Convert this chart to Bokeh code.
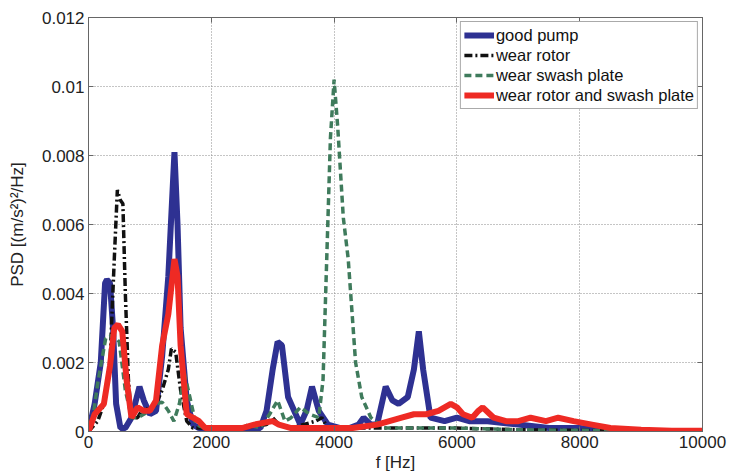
from bokeh.plotting import figure
from bokeh.models import (FixedTicker, LinearAxis, Range1d, Legend, LegendItem,
                          CustomJSTickFormatter)
from bokeh.embed import file_html
from bokeh.resources import INLINE

# ---------------- data ----------------
good_f = [0, 100, 200, 270, 300, 350, 400, 450, 520, 600, 700, 830, 900, 1000, 1100,
          1200, 1300, 1400, 1450, 1500, 1600, 1700, 1800, 2000, 2400, 2800, 2900,
          3000, 3080, 3150, 3250, 3450, 3550, 3640, 3750, 3900, 4100, 4250, 4400,
          4480, 4600, 4700, 4840, 4950, 5050, 5200, 5300, 5380, 5450, 5570, 5800,
          6000, 6200, 6500, 7000, 7500, 8000, 8500, 10000]
good_v = [0, 0.0008, 0.002, 0.0043, 0.0044, 0.0043, 0.003, 0.0008, 0.0001, 0.0001,
          0.0004, 0.0013, 0.0009, 0.0005, 0.0006, 0.0022, 0.0045, 0.0081, 0.006,
          0.003, 0.0009, 0.0002, 0.0001, 0.0001, 0.0001, 0.0001, 0.0006, 0.0018,
          0.0026, 0.0025, 0.001, 0.0002, 0.0006, 0.0013, 0.0006, 0.0002, 0.0001,
          0.0001, 0.0002, 0.0004, 0.0002, 0.0002, 0.0013, 0.0009, 0.0008, 0.001,
          0.0018, 0.0029, 0.0018, 0.0004, 0.0003, 0.0004, 0.0003, 0.0003, 0.0002,
          0.0001, 0.0001, 0.0, 0.0]

rotor_f = [0, 150, 250, 350, 420, 470, 520, 560, 600, 650, 700, 800, 900, 1000, 1100,
           1200, 1300, 1350, 1420, 1500, 1600, 1700, 1900, 2500, 2900, 3000, 3100,
           3300, 3700, 3800, 3900, 4500, 5000, 6000, 7000, 10000]
rotor_v = [0, 0.0003, 0.0008, 0.002, 0.005, 0.0070, 0.0067, 0.0066, 0.004, 0.0015,
           0.0004, 0.0004, 0.0007, 0.0006, 0.0008, 0.0012, 0.0018, 0.0024, 0.0023,
           0.0012, 0.0003, 0.0001, 0.0001, 0.0001, 0.0002, 0.0004, 0.0002, 0.0001,
           0.0003, 0.0004, 0.0001, 0.0001, 0.0001, 0.0001, 0.00005, 0]

swash_f = [0, 80, 150, 280, 400, 500, 600, 700, 800, 900, 1000, 1100, 1200, 1300,
           1390, 1480, 1560, 1650, 1750, 1900, 2200, 2500, 2600, 2800, 2950, 3080,
           3200, 3300, 3450, 3600, 3750, 3820, 3880, 3940, 4000, 4060, 4150, 4230,
           4350, 4450, 4600, 4800, 5000, 6000, 7000, 10000]
swash_v = [0, 0.0005, 0.0014, 0.0027, 0.0028, 0.0026, 0.0012, 0.0004, 0.0004,
           0.0005, 0.0006, 0.0008, 0.00085, 0.0006, 0.0003, 0.0008, 0.0017, 0.001,
           0.0002, 0.0001, 0.0001, 0.0001, 0.0002, 0.0001, 0.0005, 0.0009, 0.0003,
           0.0004, 0.0007, 0.0005, 0.0004, 0.0015, 0.005, 0.0085, 0.0102, 0.0088,
           0.0062, 0.005, 0.002, 0.001, 0.0004, 0.0001, 0.0001, 0.0001, 0.00005, 0]

both_f = [0, 100, 250, 350, 420, 480, 550, 620, 700, 800, 900, 1000, 1100, 1200, 1300,
          1400, 1450, 1500, 1600, 1700, 1800, 1900, 2100, 2500, 2700, 3000, 3100,
          3300, 3700, 4300, 4700, 4900, 5100, 5300, 5500, 5700, 5900, 6000, 6100,
          6250, 6350, 6420, 6600, 6800, 7000, 7200, 7450, 7650, 7900, 8200, 8500,
          9000, 9500, 10000]
both_v = [0, 0.0005, 0.0008, 0.0019, 0.003, 0.0031, 0.0029, 0.0015, 0.0004, 0.0007,
          0.0006, 0.0006, 0.0009, 0.0025, 0.0034, 0.005, 0.0045, 0.0025, 0.0005,
          0.0004, 0.0003, 0.0001, 0.0001, 0.0001, 0.0002, 0.0003, 0.0002, 0.0001,
          0.0001, 0.0001, 0.0002, 0.0003, 0.0004, 0.0005, 0.0005, 0.0006, 0.0008,
          0.0007, 0.0005, 0.0004, 0.0006, 0.0007, 0.0004, 0.0003, 0.0003, 0.0004,
          0.0003, 0.0004, 0.0003, 0.0002, 0.0001, 0.00005, 0.00002, 0.00002]

x_ticks = [0, 2000, 4000, 6000, 8000, 10000]
y_ticks = [0, 0.002, 0.004, 0.006, 0.008, 0.01, 0.012]
series_names = ["good pump", "wear rotor", "wear swash plate",
                "wear rotor and swash plate"]

FONT = "Liberation Sans"

p = figure(width=729, height=475, output_backend="svg", toolbar_location=None,
           x_range=Range1d(0, 10000), y_range=Range1d(0, 0.012),
           min_border_left=88, min_border_right=27, min_border_top=17,
           min_border_bottom=44)
p.background_fill_color = "white"
p.border_fill_color = "white"
p.outline_line_color = "#666666"
p.outline_line_width = 1

# Lines
r_good = p.line(good_f, good_v, line_color="#2E3192", line_width=6)
r_rotor = p.line(rotor_f, rotor_v, line_color="#111111", line_width=3.5,
                 line_dash="8 3 2 3")
r_swash = p.line(swash_f, swash_v, line_color="#3F7B5C", line_width=3.5,
                 line_dash="7 4")
r_both = p.line(both_f, both_v, line_color="#EE2A24", line_width=6)

# Axes
for ax in (p.xaxis[0], p.yaxis[0]):
    ax.major_tick_in = 5
    ax.major_tick_out = 0
    ax.minor_tick_in = 0
    ax.minor_tick_out = 0
    ax.axis_line_color = "#666666"
    ax.major_tick_line_color = "#666666"
    ax.major_label_text_font = FONT
    ax.major_label_text_font_size = "17px"
    ax.major_label_text_color = "#222222"
    ax.axis_label_text_font = FONT
    ax.axis_label_text_font_size = "17px"
    ax.axis_label_text_font_style = "normal"
    ax.axis_label_text_color = "#222222"

p.xaxis[0].ticker = FixedTicker(ticks=x_ticks)
p.yaxis[0].ticker = FixedTicker(ticks=y_ticks)
p.yaxis[0].formatter = CustomJSTickFormatter(
    code="return tick == 0 ? '0' : String(parseFloat(tick.toFixed(4)));")
p.xaxis[0].axis_label = "f [Hz]"
p.yaxis[0].axis_label = "PSD [(m/s²)²/Hz]"
p.xaxis[0].major_label_standoff = 4
p.yaxis[0].major_label_standoff = 4
p.xaxis[0].axis_label_standoff = 2
p.yaxis[0].axis_label_standoff = 12

# Right and top axes with inward ticks only (no labels)
right = LinearAxis(ticker=FixedTicker(ticks=y_ticks),
                   major_tick_in=5, major_tick_out=0, minor_tick_in=0, minor_tick_out=0,
                   axis_line_color="#666666", major_tick_line_color="#666666",
                   major_label_text_alpha=0, major_label_text_font_size="10px",
                   major_label_standoff=0)
right.formatter = CustomJSTickFormatter(code="return '';")
top = LinearAxis(ticker=FixedTicker(ticks=x_ticks),
                 major_tick_in=5, major_tick_out=0, minor_tick_in=0, minor_tick_out=0,
                 axis_line_color="#666666", major_tick_line_color="#666666",
                 major_label_text_alpha=0, major_label_text_font_size="10px",
                 major_label_standoff=0)
top.formatter = CustomJSTickFormatter(code="return '';")
p.add_layout(right, "right")
p.add_layout(top, "above")

# Grid
p.xgrid.ticker = FixedTicker(ticks=x_ticks)
p.ygrid.ticker = FixedTicker(ticks=y_ticks)
for g in (p.xgrid[0], p.ygrid[0]):
    g.grid_line_color = "#8a8a8a"
    g.grid_line_dash = "1 2"
    g.grid_line_width = 1

legend = Legend(items=[LegendItem(label=series_names[0], renderers=[r_good]),
                       LegendItem(label=series_names[1], renderers=[r_rotor]),
                       LegendItem(label=series_names[2], renderers=[r_swash]),
                       LegendItem(label=series_names[3], renderers=[r_both])],
                location="top_right")
legend.margin = 4
legend.padding = 3
legend.spacing = 0
legend.glyph_width = 30
legend.glyph_height = 20
legend.label_height = 20
legend.label_standoff = 2
legend.label_text_font = FONT
legend.label_text_font_size = "16.5px"
legend.label_text_color = "#111111"
legend.border_line_color = "#555555"
legend.border_line_width = 1
legend.background_fill_alpha = 1
p.add_layout(legend, "center")

open("out.html", "w").write(file_html(p, INLINE))
